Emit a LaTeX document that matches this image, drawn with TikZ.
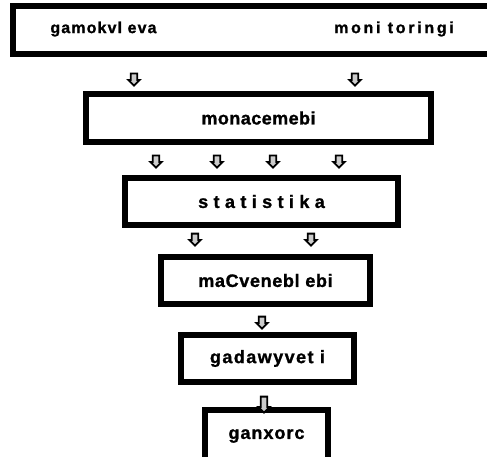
\documentclass[tikz,border=0pt]{standalone}
\usepackage{fontspec}
\setmainfont{Liberation Sans}[BoldFeatures={FakeBold=1.2}]
\usetikzlibrary{shapes.arrows}

\tikzset{
  stagebox/.style={draw=black, line width=6pt, fill=white, rectangle,
    inner sep=0pt, font=\bfseries\fontsize{18}{20}\selectfont},
  toplabel/.style={inner sep=0pt, anchor=center, font=\bfseries\fontsize{16}{18}\selectfont},
  flowarrow/.style={draw=black, line width=1.8pt, fill=gray!40, shape=single arrow,
    shape border rotate=270, single arrow head extend=2.4pt,
    single arrow tip angle=90, inner sep=2.3pt, minimum height=12pt, minimum width=10pt},
  longarrow/.style={flowarrow, minimum height=16pt}
}
\newcommand{\spaced}[2]{{\addfontfeature{LetterSpace=#1}#2}}

\begin{document}
\begin{tikzpicture}[x=1pt, y=-1pt]
  \useasboundingbox (0,0) rectangle (487,457);
  \clip (0,0) rectangle (487,457);

  % source box with its two labels
  \node[stagebox, minimum width=478pt, minimum height=48pt] (src) at (252,30) {};
  \node[toplabel] (srcA) at (103.5,29) {\spaced{7}{gamokvl eva}};
  \node[toplabel] (srcB) at (394,29) {\spaced{17}{moni toringi}};

  % processing stages
  \node[stagebox, minimum width=345pt, minimum height=48pt] (data) at (258.5,118)
    {\spaced{2.5}{monacemebi}};
  \node[stagebox, minimum width=273pt, minimum height=47pt] (stat) at (261.5,201.5)
    {\spaced{30}{statistika}};
  \node[stagebox, minimum width=209pt, minimum height=47pt] (ind) at (265.5,280.5)
    {\spaced{3.7}{maCvenebl ebi}};
  \node[stagebox, minimum width=173pt, minimum height=47pt] (dec) at (267.5,358.5)
    {\spaced{8}{gadawyvet i}};
  \node[stagebox, minimum width=123pt, minimum height=52pt] (impl) at (266.5,436)
    {\raisebox{3pt}{\spaced{5.5}{ganxorc}}};

  % flow arrows between the stages
  \node[flowarrow] (a1) at (134,78) {};
  \node[flowarrow] (a2) at (355,78) {};

  \node[flowarrow] (b1) at (156,160) {};
  \node[flowarrow] (b2) at (217,160) {};
  \node[flowarrow] (b3) at (273,160) {};
  \node[flowarrow] (b4) at (339,160) {};

  \node[flowarrow] (c1) at (195,238) {};
  \node[flowarrow] (c2) at (311,238) {};

  \node[flowarrow] (d1) at (262,321) {};

  \node[longarrow] (e1) at (264,403) {};
\end{tikzpicture}
\end{document}
